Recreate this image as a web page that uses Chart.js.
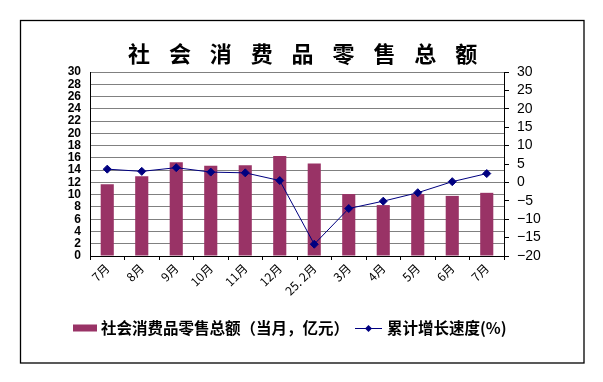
<!DOCTYPE html>
<html>
<head>
<meta charset="utf-8">
<script src="https://cdn.jsdelivr.net/npm/chart.js@4.4.1/dist/chart.umd.min.js"></script>
<style>
  html, body { margin: 0; padding: 0; background: #fff; }
  #wrap { position: relative; width: 603px; height: 382px; }
  canvas { display: block; }
  #title {
    position: absolute; left: 128px; top: 41px; display: inline-block;
    font-family: 'Noto Sans CJK SC', sans-serif; font-weight: bold;
    font-size: 22px; line-height: 22px; letter-spacing: 0px;
    color: #000; white-space: nowrap; margin: 0;
  }
</style>
</head>
<body>
<div id="wrap"><canvas id="c" width="603" height="382"></canvas><span id="title"></span></div>
<script>
const categories = ['7月', '8月', '9月', '10月', '11月', '12月', '25. 2月', '3月', '4月', '5月', '6月', '7月'];
const retailSales = [11.7, 13.0, 15.3, 14.7, 14.8, 16.3, 15.1, 10.1, 8.3, 10.1, 9.8, 10.3];
const growthRate = [3.6, 3.0, 4.0, 2.8, 2.6, 0.5, -16.8, -7.1, -5.1, -2.8, 0.2, 2.4];
const titleText = '社会消费品零售总额';
const barLabel = '社会消费品零售总额（当月，亿元）';
const lineLabel = '累计增长速度(%)';

const BAR_COLOR = '#993366';
const LINE_COLOR = '#000080';
const CJK = "'Noto Sans CJK SC', 'Noto Sans', sans-serif";
const LAT = "'Liberation Sans', Arial, sans-serif";

// title: spread characters so that their pitch matches the reference
const titleEl = document.getElementById('title');
titleEl.textContent = titleText;
const advance = titleEl.getBoundingClientRect().width / [...titleText].length;
titleEl.style.letterSpacing = Math.max(0, 40.9 - advance) + 'px';

const framePlugin = {
  id: 'frame',
  beforeDraw(chart) {
    const ctx = chart.ctx;
    ctx.save();
    ctx.fillStyle = '#fff';
    ctx.fillRect(0, 0, chart.width, chart.height);
    ctx.strokeStyle = '#000';
    ctx.lineWidth = 1.3;
    ctx.strokeRect(20.5, 20.5, 563.5, 342.5);
    ctx.restore();
  }
};

const legendPlugin = {
  id: 'customLegend',
  afterDraw(chart) {
    const ctx = chart.ctx;
    const bar = chart.data.datasets.find(d => d.type === 'bar');
    const line = chart.data.datasets.find(d => d.type === 'line');
    const y = 328;
    ctx.save();
    ctx.font = "bold 15.5px " + CJK;
    ctx.textBaseline = 'middle';
    ctx.textAlign = 'left';
    ctx.fillStyle = bar.backgroundColor;
    ctx.fillRect(73, y - 3.5, 24, 7);
    ctx.fillStyle = '#000';
    ctx.fillText(bar.label, 101, y);
    ctx.strokeStyle = line.borderColor;
    ctx.lineWidth = 1;
    ctx.beginPath();
    ctx.moveTo(355, y + 0.5);
    ctx.lineTo(382, y + 0.5);
    ctx.stroke();
    ctx.fillStyle = line.borderColor;
    ctx.beginPath();
    const cx = 368.5, r = 3.5;
    ctx.moveTo(cx, y + 0.5 - r);
    ctx.lineTo(cx + r, y + 0.5);
    ctx.lineTo(cx, y + 0.5 + r);
    ctx.lineTo(cx - r, y + 0.5);
    ctx.closePath();
    ctx.fill();
    ctx.fillStyle = '#000';
    ctx.fillText(line.label, 387, y);
    ctx.restore();
  }
};

new Chart(document.getElementById('c'), {
  data: {
    labels: categories,
    datasets: [
      {
        type: 'line',
        label: lineLabel,
        data: growthRate,
        yAxisID: 'y1',
        borderColor: LINE_COLOR,
        backgroundColor: LINE_COLOR,
        borderWidth: 1,
        pointStyle: 'rectRot',
        pointRadius: 4,
        pointHoverRadius: 4,
        pointBackgroundColor: LINE_COLOR,
        pointBorderColor: LINE_COLOR,
        tension: 0,
        order: 0
      },
      {
        type: 'bar',
        label: barLabel,
        data: retailSales,
        yAxisID: 'y',
        backgroundColor: BAR_COLOR,
        borderWidth: 0,
        categoryPercentage: 1,
        barPercentage: 0.38,
        order: 1
      }
    ]
  },
  options: {
    responsive: false,
    devicePixelRatio: 1,
    animation: false,
    events: [],
    layout: { padding: { left: 0, right: 0, top: 72, bottom: 0 } },
    plugins: {
      legend: { display: false },
      tooltip: { enabled: false },
      title: { display: false }
    },
    scales: {
      x: {
        type: 'category',
        offset: true,
        grid: {
          offset: true,
          drawOnChartArea: false,
          drawTicks: true,
          tickLength: 4,
          color: '#000'
        },
        border: { color: '#000', width: 1 },
        ticks: {
          color: '#000',
          font: { family: CJK, size: 12 },
          minRotation: 45,
          maxRotation: 45,
          autoSkip: false,
          padding: 1
        },
        afterFit(scale) { scale.height = 126; }
      },
      y: {
        type: 'linear',
        position: 'left',
        min: 0,
        max: 30,
        grid: { color: '#808080', lineWidth: 1, drawTicks: false },
        border: { color: '#000', width: 1 },
        ticks: {
          stepSize: 2,
          autoSkip: false,
          color: '#000',
          padding: 9,
          font: { family: LAT, size: 12, weight: 'bold' }
        },
        afterFit(scale) { scale.width = 90; }
      },
      y1: {
        type: 'linear',
        position: 'right',
        min: -20,
        max: 30,
        grid: { drawOnChartArea: false, drawTicks: true, tickLength: 5, color: '#000' },
        border: { color: '#000', width: 1 },
        ticks: {
          stepSize: 5,
          autoSkip: false,
          color: '#000',
          padding: 8,
          font: { family: LAT, size: 14 },
          callback: (v) => (v < 0 ? '\u2212' + Math.abs(v) : String(v))
        },
        afterFit(scale) { scale.width = 99; }
      }
    }
  },
  plugins: [framePlugin, legendPlugin]
});
</script>
</body>
</html>
